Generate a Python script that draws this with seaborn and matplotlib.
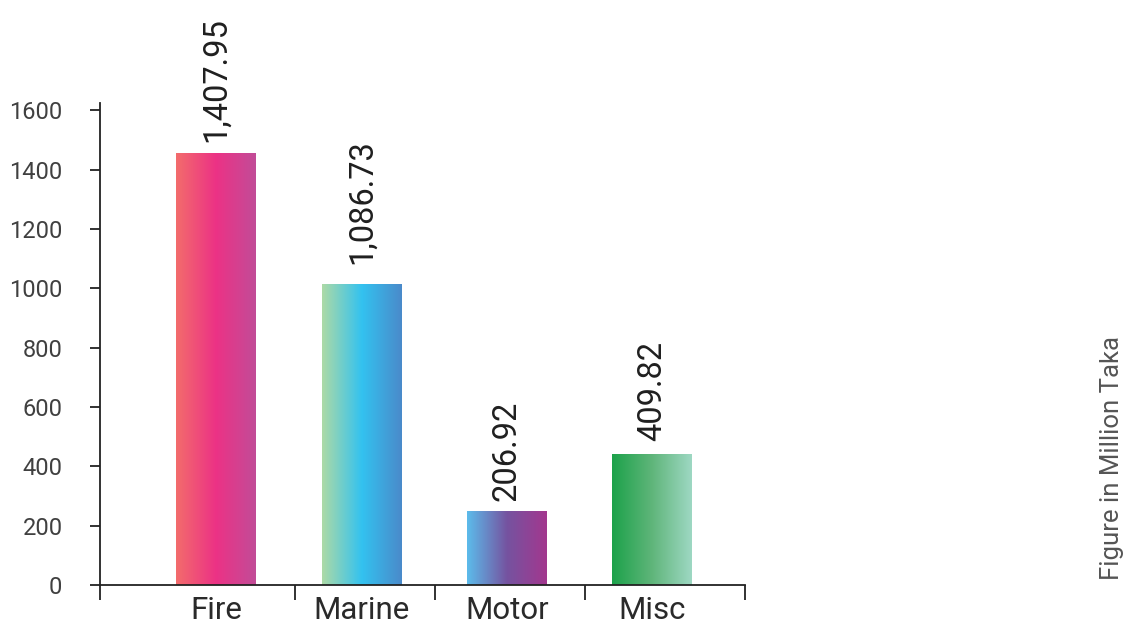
import numpy as np
import pandas as pd
import matplotlib
matplotlib.use("Agg")
import matplotlib.pyplot as plt
import seaborn as sns
from matplotlib.colors import LinearSegmentedColormap

# ---- data ----
categories = ["Fire", "Marine", "Motor", "Misc"]
bar_heights = [1455, 1016, 250, 443]          # heights as drawn in the reference
value_labels = ["1,407.95", "1,086.73", "206.92", "409.82"]
y_ticks = [0, 200, 400, 600, 800, 1000, 1200, 1400, 1600]
side_note = "Figure in Million Taka"

gradients = [
    ["#F36C6C", "#EC3285", "#C24C98"],
    ["#ADDAA6", "#33C2F0", "#4A8ACA"],
    ["#5CBCEB", "#7553A0", "#A3378E"],
    ["#1CA24A", "#5FB57A", "#9ED8C3"],
]
label_offsets = [8, 14, 7, 9]

sns.set_theme(style="white")
plt.rcParams["font.family"] = ["Roboto", "DejaVu Sans"]

fig = plt.figure(figsize=(11.35, 6.25), dpi=100)
ax = fig.add_axes([100/1135, 40/625, 645/1135, 482/625])

df = pd.DataFrame({"cat": categories, "val": bar_heights})
sns.barplot(data=df, x="cat", y="val", ax=ax, width=0.55, color="white",
            saturation=1, edgecolor="none")

# gradient fill clipped to each bar
for patch, cols, lab, off in zip(ax.patches, gradients, value_labels, label_offsets):
    x0, y0 = patch.get_x(), patch.get_y()
    w, h = patch.get_width(), patch.get_height()
    cmap = LinearSegmentedColormap.from_list("g", cols)
    grad = np.linspace(0, 1, 256).reshape(1, -1)
    im = ax.imshow(grad, cmap=cmap, extent=[x0, x0 + w, y0, y0 + h],
                   aspect="auto", zorder=2, interpolation="bicubic")
    im.set_clip_path(patch)
    patch.set_facecolor("none")
    ax.annotate(lab, (x0 + w / 2, y0 + h), xytext=(0, off),
                textcoords="offset points", rotation=90, ha="center",
                va="bottom", fontsize=23.5, color="#1f1f1f")

ax.set_xlim(-0.8, 3.64)
ax.set_ylim(0, 1625)

ax.set_xlabel("")
ax.set_ylabel("")
for s in ["top", "right"]:
    ax.spines[s].set_visible(False)
for s in ["left", "bottom"]:
    ax.spines[s].set_color("#222222")
    ax.spines[s].set_linewidth(1.3)

ax.set_yticks(y_ticks)
ax.set_yticklabels([str(t) for t in y_ticks])
ax.tick_params(axis="y", direction="out", length=7, width=1.3, color="#222222",
               pad=20, labelsize=17, labelcolor="#404040", left=True)
ax.set_xticks(range(len(categories)))
ax.set_xticklabels(categories)
ax.tick_params(axis="x", which="major", length=0, pad=8, labelsize=22.5,
               labelcolor="#2a2a2a")
ax.set_xticks([-0.8, 0.544, 1.507, 2.54, 3.64], minor=True)
ax.tick_params(axis="x", which="minor", direction="out", length=11, width=1.3,
               color="#222222", bottom=True)
ax.grid(False)

fig.text(1112/1135, 1 - 458/625, side_note, rotation=90, ha="center",
         va="center", fontsize=18.5, color="#555555")

fig.savefig("out.png", dpi=100)
